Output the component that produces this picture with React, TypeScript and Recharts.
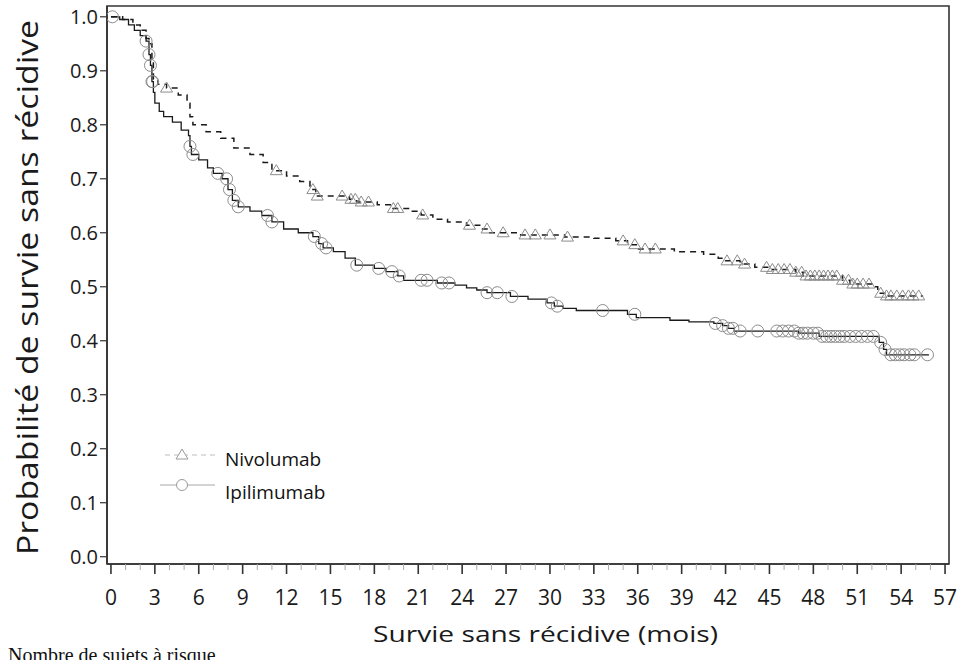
import React from 'react';
import { ComposedChart, Line, Scatter, XAxis, YAxis, ReferenceArea, Legend } from 'recharts';

// Kaplan-Meier step points: time (months) -> survival
const NIVO_T = [0, 0.8, 1.5, 2.0, 2.4, 2.6, 2.8, 2.9, 3.2, 3.8, 4.6, 5.2, 5.4, 5.6, 6.5, 7.5, 8.4, 9.5, 10.4, 11.0, 12.0, 12.9, 13.6, 14.0, 16.3, 16.8, 18.2, 19.2, 20.5, 21.2, 22.0, 23.0, 24.3, 25.2, 25.8, 28.0, 31.0, 33.0, 34.5, 35.3, 36.0, 38.5, 40.5, 41.5, 42.0, 43.0, 44.0, 45.0, 46.8, 47.3, 50.0, 50.5, 52.0, 52.4, 53.0, 55.5];
const NIVO_S = [1.0, 0.995, 0.985, 0.975, 0.96, 0.95, 0.92, 0.885, 0.875, 0.868, 0.855, 0.84, 0.815, 0.8, 0.787, 0.775, 0.757, 0.745, 0.73, 0.715, 0.705, 0.695, 0.68, 0.668, 0.662, 0.657, 0.652, 0.645, 0.64, 0.633, 0.625, 0.62, 0.614, 0.607, 0.6, 0.596, 0.592, 0.59, 0.585, 0.578, 0.57, 0.565, 0.56, 0.553, 0.548, 0.542, 0.536, 0.532, 0.527, 0.52, 0.512, 0.505, 0.5, 0.488, 0.483, 0.483];

const IPI_T = [0, 0.6, 1.2, 1.6, 2.0, 2.4, 2.6, 2.7, 2.8, 2.9, 3.0, 3.3, 3.6, 4.2, 4.8, 5.3, 5.4, 5.5, 6.0, 6.6, 7.0, 7.6, 8.0, 8.3, 8.7, 9.5, 10.3, 11.0, 11.8, 12.8, 13.8, 14.2, 14.5, 15.2, 16.0, 16.7, 18.0, 18.8, 19.6, 20.0, 22.3, 23.5, 24.3, 25.0, 25.7, 27.3, 28.5, 29.8, 30.3, 30.9, 31.8, 35.3, 35.9, 38.2, 39.5, 41.2, 41.8, 42.2, 42.6, 47.0, 48.4, 52.5, 52.8, 53.0, 55.9];
const IPI_S = [1.0, 0.995, 0.985, 0.975, 0.965, 0.955, 0.93, 0.91, 0.88, 0.86, 0.84, 0.825, 0.815, 0.805, 0.79, 0.78, 0.76, 0.745, 0.735, 0.72, 0.71, 0.7, 0.68, 0.66, 0.648, 0.64, 0.632, 0.62, 0.607, 0.6, 0.593, 0.58, 0.572, 0.565, 0.553, 0.54, 0.534, 0.528, 0.52, 0.512, 0.507, 0.503, 0.498, 0.494, 0.489, 0.482, 0.477, 0.47, 0.464, 0.46, 0.456, 0.449, 0.443, 0.438, 0.435, 0.432, 0.428, 0.423, 0.418, 0.414, 0.408, 0.397, 0.384, 0.374, 0.374];

// censored observations (months)
const NIVO_CENSOR = [3.8, 11.3, 13.8, 14.1, 15.8, 16.4, 16.7, 17.1, 17.6, 19.3, 19.6, 21.3, 24.5, 25.7, 26.8, 28.3, 29.0, 30.0, 31.2, 35.0, 35.8, 36.5, 37.2, 42.1, 42.8, 43.3, 44.8, 45.2, 45.6, 46.0, 46.4, 46.8, 47.2, 47.5, 47.8, 48.1, 48.4, 48.7, 49.0, 49.3, 49.6, 50.0, 50.4, 50.7, 51.0, 51.4, 51.8, 52.6, 53.0, 53.3, 53.7, 54.1, 54.5, 54.8, 55.2];
const IPI_CENSOR = [0.1, 2.4, 2.6, 2.7, 2.8, 2.85, 5.4, 5.6, 7.3, 7.9, 8.1, 8.4, 8.7, 10.7, 11.0, 13.9, 14.4, 14.7, 16.8, 18.3, 19.2, 19.7, 21.2, 21.6, 22.6, 23.1, 25.7, 26.4, 27.4, 30.1, 30.5, 33.6, 35.8, 41.3, 41.8, 42.2, 42.5, 43.0, 44.2, 45.5, 45.9, 46.3, 46.7, 47.0, 47.3, 47.6, 48.0, 48.3, 48.6, 48.9, 49.2, 49.5, 49.8, 50.1, 50.5, 50.9, 51.3, 51.7, 52.1, 52.6, 52.9, 53.3, 53.6, 53.9, 54.2, 54.6, 54.9, 55.8];

const X_TICKS = Array.from({ length: 58 }, (_, i) => i);
const Y_TICKS = [0, 0.1, 0.2, 0.3, 0.4, 0.5, 0.6, 0.7, 0.8, 0.9, 1.0];

const FONT = '"Open Sans", sans-serif';

const toCurve = (ts: number[], ss: number[]) => ts.map((t, i) => ({ t, s: ss[i] }));
const survAt = (ts: number[], ss: number[], t: number) => {
  let s = ss[0];
  for (let i = 0; i < ts.length; i++) if (ts[i] <= t) s = ss[i];
  return s;
};
const toMarks = (cs: number[], ts: number[], ss: number[]) => cs.map((t) => ({ t, s: survAt(ts, ss, t) }));

const nivoCurve = toCurve(NIVO_T, NIVO_S);
const ipiCurve = toCurve(IPI_T, IPI_S);
const nivoMarks = toMarks(NIVO_CENSOR, NIVO_T, NIVO_S);
const ipiMarks = toMarks(IPI_CENSOR, IPI_T, IPI_S);

const Triangle = ({ cx, cy }: any) => (
  <path d={`M${cx},${cy - 6}L${cx + 6},${cy + 4}L${cx - 6},${cy + 4}Z`} fill="none" stroke="#8c8c8c" strokeWidth={1} />
);
const Circle = ({ cx, cy }: any) => <circle cx={cx} cy={cy} r={6} fill="none" stroke="#8c8c8c" strokeWidth={1} />;

function XTick({ x, y, payload }: any) {
  const major = payload.value % 3 === 0;
  return (
    <g>
      <line x1={x} x2={x} y1={y} y2={y + (major ? 10 : 6)} stroke={major ? '#333' : '#aaa'} strokeWidth={major ? 1.6 : 1} />
      {major && (
        <text x={x} y={y + 41} textAnchor="middle" fontSize={21} fontFamily={FONT} fill="#1a1a1a">
          {payload.value}
        </text>
      )}
    </g>
  );
}

function YTick({ x, y, payload }: any) {
  return (
    <g>
      <line x1={x - 7} x2={x} y1={y} y2={y} stroke="#333" strokeWidth={1.2} />
      <text x={x - 9} y={y + 7} textAnchor="end" fontSize={20} fontFamily={FONT} fill="#1a1a1a">
        {payload.value.toFixed(1)}
      </text>
    </g>
  );
}

export default function App() {
  return (
    <div style={{ position: 'absolute', left: 0, top: 0, width: 959, height: 660, background: '#fff', overflow: 'hidden' }}>
      <ComposedChart width={959} height={660} margin={{ top: 6, right: 10, bottom: 0, left: 7 }}>
        <XAxis
          dataKey="t"
          type="number"
          domain={[-0.27, 57.27]}
          allowDataOverflow
          ticks={X_TICKS}
          interval={0}
          height={96}
          tickSize={0}
          tickMargin={0}
          tickLine={false}
          tick={<XTick />}
          axisLine={{ stroke: '#333', strokeWidth: 1.6 }}
          label={{
            content: () => (
              <text x={373} y={642} fontSize={22} fontFamily={FONT} fill="#1a1a1a" textLength={345} lengthAdjust="spacingAndGlyphs">
                Survie sans récidive (mois)
              </text>
            ),
          }}
        />
        <YAxis
          dataKey="s"
          type="number"
          domain={[-0.0135, 1.02]}
          allowDataOverflow
          ticks={Y_TICKS}
          width={100}
          tickSize={0}
          tickMargin={0}
          tickLine={false}
          tick={<YTick />}
          axisLine={{ stroke: '#333', strokeWidth: 1.6 }}
          label={{
            content: () => (
              <text
                x={0}
                y={0}
                transform="translate(38,555) rotate(-90)"
                fontSize={30}
                fontFamily={FONT}
                fill="#1a1a1a"
                textLength={535}
                lengthAdjust="spacingAndGlyphs"
              >
                Probabilité de survie sans récidive
              </text>
            ),
          }}
        />
        <ReferenceArea x1={-0.27} x2={57.27} y1={-0.0135} y2={1.02} fill="none" stroke="#333" strokeWidth={1.6} ifOverflow="visible" />
        <Line data={nivoCurve} dataKey="s" type="stepAfter" stroke="#1a1a1a" strokeWidth={1.5} strokeDasharray="6 5" dot={false} isAnimationActive={false} />
        <Line data={ipiCurve} dataKey="s" type="stepAfter" stroke="#1a1a1a" strokeWidth={1.3} dot={false} isAnimationActive={false} />
        <Scatter data={nivoMarks} dataKey="s" shape={<Triangle />} isAnimationActive={false} />
        <Scatter data={ipiMarks} dataKey="s" shape={<Circle />} isAnimationActive={false} />
        <Legend
          layout="vertical"
          align="center"
          verticalAlign="middle"
          wrapperStyle={{ position: 'absolute', left: 0, top: 438, width: 360 }}
          content={() => (
            <svg width={360} height={70} style={{ display: 'block' }}>
              <line x1={165} x2={215} y1={17} y2={17} stroke="#bdbdbd" strokeDasharray="5 4" strokeWidth={1.2} />
              <path d="M182,11L188,21L176,21Z" fill="#fff" stroke="#9a9a9a" />
              <text x={225} y={28} fontSize={19} fontFamily={FONT} fill="#111">Nivolumab</text>
              <line x1={160} x2={215} y1={47} y2={47} stroke="#a8a8a8" strokeWidth={1.2} />
              <circle cx={182} cy={47} r={5.5} fill="#fff" stroke="#9a9a9a" />
              <text x={225} y={61} fontSize={19} fontFamily={FONT} fill="#111">Ipilimumab</text>
            </svg>
          )}
        />
      </ComposedChart>
      <div style={{ position: 'absolute', left: 8, top: 643, fontFamily: '"Liberation Serif", "Times New Roman", serif', fontSize: 20, lineHeight: '24px', color: '#111', whiteSpace: 'nowrap' }}>
        Nombre de sujets à risque
      </div>
    </div>
  );
}
